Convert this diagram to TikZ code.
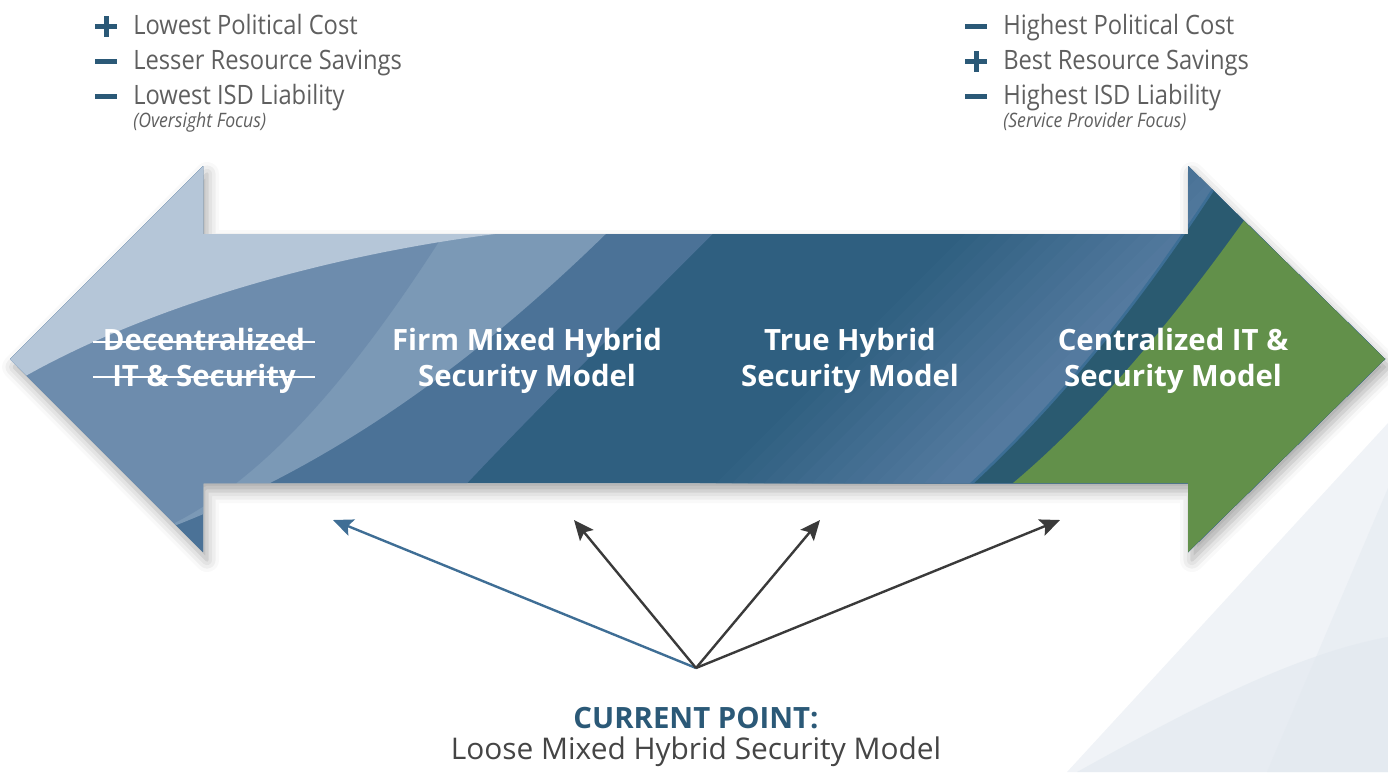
\documentclass[tikz,border=0pt]{standalone}
\usepackage{fontspec}
\setmainfont{Open Sans}
\newfontfamily\listfont[FakeStretch=0.89]{Open Sans}
\usetikzlibrary{arrows.meta,shadows.blur}
\definecolor{lightA}{HTML}{B5C6D8}
\definecolor{midB}{HTML}{6D8CAD}
\definecolor{bandC}{HTML}{7B99B6}
\definecolor{midD}{HTML}{4B7297}
\definecolor{darkE}{HTML}{2F5F80}
\definecolor{lightF}{HTML}{557BA0}
\definecolor{tealT}{HTML}{2A5A70}
\definecolor{lineT}{HTML}{3C6E95}
\definecolor{greenG}{HTML}{62904A}
\definecolor{bul}{HTML}{2B5977}
\definecolor{txt}{HTML}{5F5F5F}
\definecolor{txtdark}{HTML}{454545}
\definecolor{ptrblue}{HTML}{3F6E95}
\definecolor{ptrdark}{HTML}{3A3A3A}
\definecolor{bgA}{HTML}{F0F3F7}
\definecolor{bgB}{HTML}{E1E8EF}
\tikzset{
  item/.style={anchor=base west, text=txt, inner sep=0pt, font=\listfont\fontsize{20}{24}\selectfont},
  note/.style={anchor=base west, text=txt, inner sep=0pt, font=\listfont\fontsize{14.9}{17}\selectfont\itshape},
  lab/.style={text=white, align=center, inner sep=0pt, font=\fontsize{22}{26.5}\selectfont\bfseries},
  ptr/.style={line width=1.8pt, -{Stealth[length=15pt, width=13pt, inset=3pt]}},
  bar/.style={fill=bul}
}
\begin{document}
\begin{tikzpicture}[x=0.75pt,y=-0.75pt]
\useasboundingbox (0,0) rectangle (1388,772);
% background decoration
\fill[bgA] (1067,772) -- (1388,423) -- (1388,772) -- cycle;
\fill[bgB, opacity=0.6] (1077,772) .. controls (1180,715) and (1290,655) .. (1388,637) -- (1388,772) -- cycle;
\fill[bgB, opacity=0.45] (1267,772) -- (1388,488) -- (1388,772) -- cycle;
% arrow with shadow
\fill[white, blur shadow={shadow xshift=3pt, shadow yshift=-6pt, shadow blur radius=9pt, shadow opacity=35}]
  (10,359) -- (203,166) -- (203,234) -- (1188,234) -- (1188,166) -- (1385,359) -- (1188,552) -- (1188,483) -- (203,483) -- (203,552) -- cycle;
\begin{scope}
\clip (10,359) -- (203,166) -- (203,234) -- (1188,234) -- (1188,166) -- (1385,359) -- (1188,552) -- (1188,483) -- (203,483) -- (203,552) -- cycle;
\fill[darkE] (0,100) rectangle (1388,600);
% gradient stripes toward lighter blue
\foreach \i in {0,...,15} {
  \pgfmathsetmacro{\pc}{100-\i*6.5}
  \fill[darkE!\pc!lightF] ({563+16*\i},620) -- ({1063+16*\i},120) -- (1400,120) -- (1400,620) -- cycle;
}
% D region
\fill[midD] (0,100) -- (0,600) -- (363,600) .. controls (470,470) and (640,310) .. (795,150) -- (795,100) -- cycle;
% C band
\fill[bandC] (0,100) -- (0,600) -- (120,600) -- (150,535) .. controls (330,470) and (480,360) .. (625,215) -- (625,100) -- cycle;
% B region
\fill[midB] (0,100) -- (0,600) -- (120,600) -- (160,530) .. controls (260,485) and (350,380) .. (440,240) -- (440,100) -- cycle;
% light region A
\fill[lightA] (0,100) -- (0,380) -- (22,378) .. controls (150,305) and (330,255) .. (495,234) -- (500,100) -- cycle;
% teal band
\fill[tealT] (930,520) .. controls (1050,420) and (1150,290) .. (1232,160) -- (1400,160) -- (1400,600) -- (930,600) -- cycle;
\draw[lineT, line width=2pt] (930,520) .. controls (1050,420) and (1150,290) .. (1232,160);
% green
\fill[greenG] (985,508) -- (1013,483) .. controls (1100,410) and (1180,310) .. (1243,222) -- (1270,185) -- (1400,185) -- (1400,600) -- (985,600) -- cycle;
\end{scope}
% labels on arrow
\node[lab] (dec) at (204,361) {Decentralized\\IT \& Security};
\draw[white, line width=1.6pt] (93,342) -- (315,342);
\draw[white, line width=1.6pt] (93,377) -- (315,377);
\node[lab] (firm) at (527,361) {Firm Mixed Hybrid\\Security Model};
\node[lab] (true) at (850,361) {True Hybrid\\Security Model};
\node[lab] (cent) at (1173,361) {Centralized IT \&\\Security Model};
% left list
\fill[bar] (95,23.5) rectangle (117,28.5);
\fill[bar] (103.5,15.5) rectangle (108.5,36.5);
\fill[bar] (95,58.5) rectangle (117,63.5);
\fill[bar] (95,93.5) rectangle (117,98.5);
\node[item] (l1) at (133,34) {Lowest Political Cost};
\node[item] (l2) at (133,69) {Lesser Resource Savings};
\node[item] (l3) at (133,104) {Lowest ISD Liability};
\node[note] (l4) at (133,127) {(Oversight Focus)};
% right list
\fill[bar] (965,23.5) rectangle (987,28.5);
\fill[bar] (965,58.5) rectangle (987,63.5);
\fill[bar] (973.5,50.5) rectangle (978.5,71.5);
\fill[bar] (965,93.5) rectangle (987,98.5);
\node[item] (r1) at (1003,34) {Highest Political Cost};
\node[item] (r2) at (1003,69) {Best Resource Savings};
\node[item] (r3) at (1003,104) {Highest ISD Liability};
\node[note] (r4) at (1003,127) {(Service Provider Focus)};
% pointers
\coordinate (o) at (696,668);
\coordinate (t1) at (333,520);
\coordinate (t2) at (574,520);
\coordinate (t3) at (820,520);
\coordinate (t4) at (1060,520);
\draw[ptr, draw=ptrblue, fill=ptrblue] (o) -- (t1);
\draw[ptr, draw=ptrdark, fill=ptrdark] (o) -- (t2);
\draw[ptr, draw=ptrdark, fill=ptrdark] (o) -- (t3);
\draw[ptr, draw=ptrdark, fill=ptrdark] (o) -- (t4);
% current point
\node[text=bul, inner sep=0pt, font=\fontsize{22}{26}\selectfont\bfseries] (cp) at (696,718) {CURRENT POINT:};
\node[text=txtdark, inner sep=0pt, font=\fontsize{22.4}{26}\selectfont] (loose) at (696,752) {Loose Mixed Hybrid Security Model};
\end{tikzpicture}
\end{document}
